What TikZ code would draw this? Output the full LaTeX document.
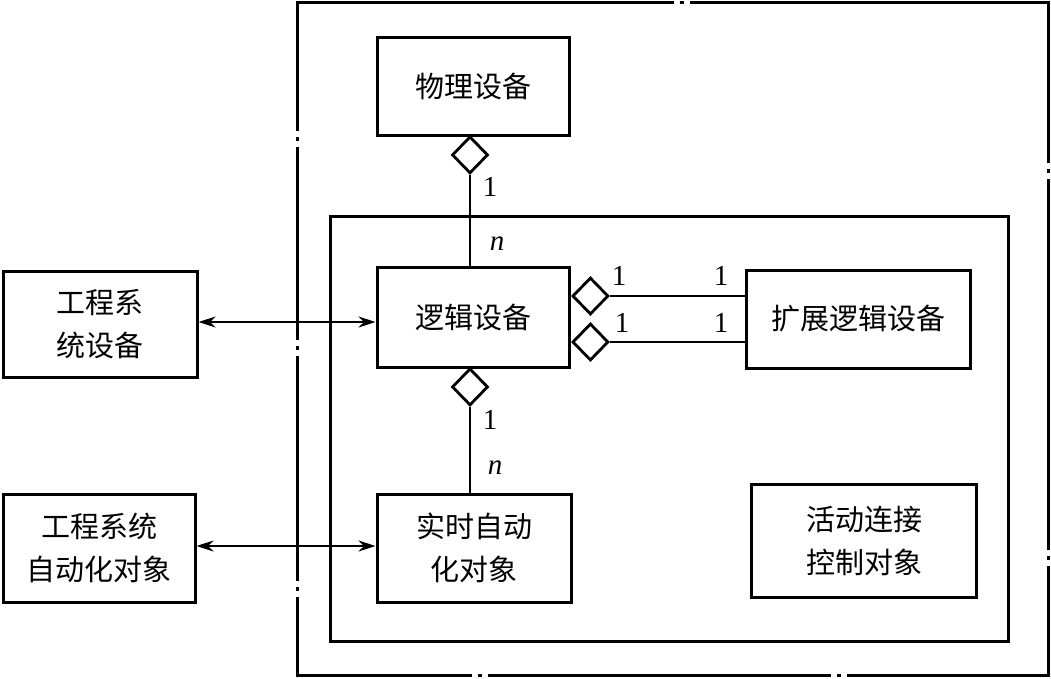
\documentclass[tikz,border=0pt]{standalone}
\usepackage{fontspec}
\newfontfamily\cjk{Noto Sans CJK SC}
\newfontfamily\numfont{Liberation Serif}
\usetikzlibrary{arrows.meta,shapes.geometric}
\begin{document}
\begin{tikzpicture}[x=1pt,y=-1pt,
  box/.style={draw,line width=3pt,inner sep=0pt,align=center,font=\cjk\fontsize{29}{43}\selectfont},
  dia/.style={draw,shape=diamond,line width=2.8pt,fill=white,inner sep=0pt,minimum width=36pt,minimum height=37pt},
  conn/.style={line width=2.8pt},
  dbl/.style={line width=1.9pt,{Stealth[length=17pt,width=11pt]}-{Stealth[length=17pt,width=11pt]}},
  lbl/.style={font=\numfont\fontsize{29}{32}\selectfont,inner sep=0pt},
  outer/.style={line width=3pt}]
\useasboundingbox (0,0) rectangle (1051,678);
% outer dash-dot frame
\draw[outer] (674,2) -- (297,2) -- (297,131);
\draw[outer] (297,137) -- (297,141);
\draw[outer] (297,147) -- (297,340);
\draw[outer] (297,346) -- (297,350);
\draw[outer] (297,356) -- (297,581);
\draw[outer] (297,587) -- (297,591);
\draw[outer] (297,597) -- (297,675) -- (472,675);
\draw[outer] (478,675) -- (482,675);
\draw[outer] (488,675) -- (831,675);
\draw[outer] (837,675) -- (841,675);
\draw[outer] (847,675) -- (1048,675) -- (1048,566);
\draw[outer] (1048,560) -- (1048,556);
\draw[outer] (1048,550) -- (1048,179);
\draw[outer] (1048,173) -- (1048,169);
\draw[outer] (1048,163) -- (1048,2) -- (690,2);
\draw[outer] (680,2) -- (684,2);
% inner frame
\draw[line width=3pt] (330,216) rectangle (1008,641);
% boxes
\node[box,minimum width=192pt,minimum height=98pt] (phys) at (473,86) {物理设备};
\node[box,minimum width=192pt,minimum height=100pt] (logic) at (473,317) {逻辑设备};
\node[box,minimum width=224pt,minimum height=98pt] (ext) at (858,319) {扩展逻辑设备};
\node[box,minimum width=194pt,minimum height=108pt] (rt) at (474,548) {实时自动\\化对象};
\node[box,minimum width=225pt,minimum height=113pt] (act) at (864,541) {活动连接\\控制对象};
\node[box,minimum width=194pt,minimum height=106pt] (esd) at (100,324) {工程系\\统设备};
\node[box,minimum width=192pt,minimum height=108pt] (eso) at (99,548) {工程系统\\自动化对象};
% diamonds
\node[dia,anchor=north] (d1) at (470,135) {};
\node[dia,anchor=north] (d2) at (470,367) {};
\node[dia,anchor=west] (d3) at (571,296) {};
\node[dia,anchor=west] (d4) at (571,342) {};
\coordinate (e3) at (ext.west |- d3.east);
\coordinate (e4) at (ext.west |- d4.east);
\draw[conn] (d1.south) -- (d1.south |- logic.north);
\draw[conn] (d2.south) -- (d2.south |- rt.north);
\draw[conn] (d3.east) -- (e3);
\draw[conn] (d4.east) -- (e4);
% labels
\node[lbl] (l1) at (490,187) {1};
\node[lbl] (l2) at (497,244) {\itshape n};
\node[lbl] (l3) at (490,420) {1};
\node[lbl] (l4) at (495,468) {\itshape n};
\node[lbl] (l5) at (619,276) {1};
\node[lbl] (l6) at (721,276) {1};
\node[lbl] (l7) at (622,323) {1};
\node[lbl] (l8) at (721,323) {1};
% arrows
\coordinate (a1) at (esd.east |- 0,322);
\coordinate (b1) at (logic.west |- 0,322);
\draw[dbl] (a1) -- (b1);
\coordinate (a2) at (eso.east |- 0,546);
\coordinate (b2) at (rt.west |- 0,546);
\draw[dbl] (a2) -- (b2);
\end{tikzpicture}
\end{document}
